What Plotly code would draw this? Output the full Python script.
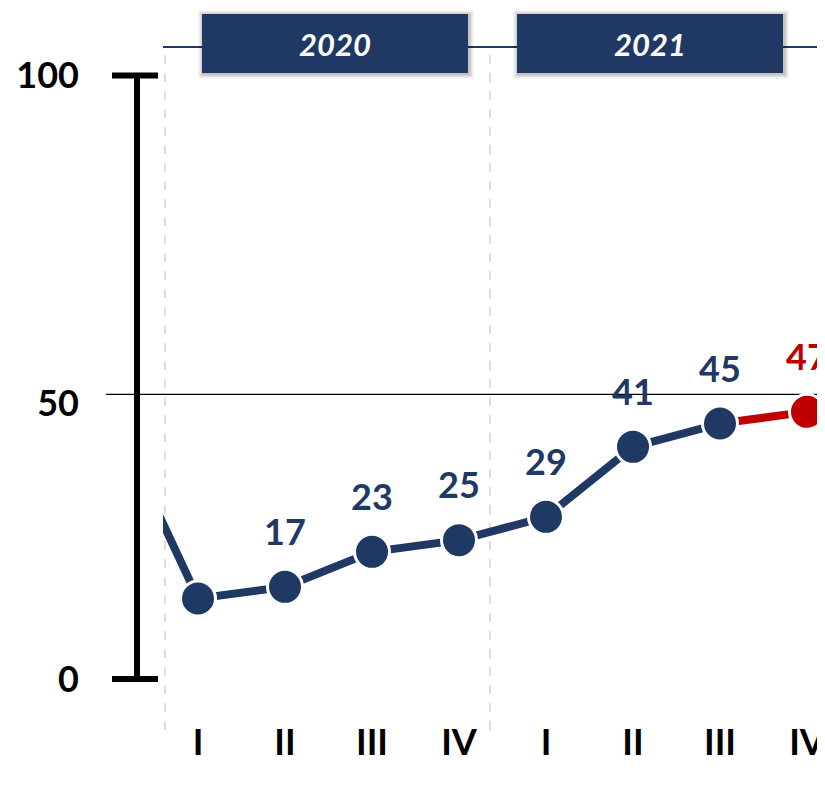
import plotly.graph_objects as go

# page is 825x792; the html body has an 8px margin, so the figure is offset by 8px
OFF = 8
W, H = 825 - OFF, 792 - 2 * OFF

# ---------------- data ----------------
quarters = ["IV", "I", "II", "III", "IV", "I", "II", "III", "IV"]   # first one (2019 Q4) is outside the view
values = [47, 15, 17, 23, 25, 29, 41, 45, 47]
show_label = [False, False, True, True, True, True, True, True, True]
years = ["2020", "2021"]
y_tick_text = ["0", "50", "100"]

NAVY = "#203864"
RED = "#C00000"
FONT = "Lato"


def px(p):          # page pixel -> paper x
    return (p - OFF) / W


def py(p):          # page pixel -> paper y
    return 1 - (p - OFF) / H


x_idx = list(range(len(values)))

# plot-area geometry (page pixels)
PLOT_L, PLOT_T, PLOT_B = 163, 50, 718
X0_PX, X_STEP = 111, 87           # pixel of index 0, pixel step per quarter


def x_at(p):
    return (p - X0_PX) / X_STEP


def y1_at(p):          # drawn scale axis: 0 at 679px, 100 at 75.5px
    return (679 - p) / 6.035


def y2_at(p):          # data axis: 0 at 686px, 5.833 px per unit
    return (686 - p) / 5.833


dom = [py(PLOT_B), py(PLOT_T)]

fig = go.Figure()

# red last segment (under the markers)
fig.add_trace(go.Scatter(
    x=x_idx[-2:], y=values[-2:], mode="lines",
    line=dict(color=RED, width=8), xaxis="x", yaxis="y2",
    hoverinfo="skip", showlegend=False))
# navy line + markers
fig.add_trace(go.Scatter(
    x=x_idx[:-1], y=values[:-1], mode="lines+markers",
    line=dict(color=NAVY, width=8),
    marker=dict(size=35, color=NAVY, line=dict(color="white", width=3)),
    xaxis="x", yaxis="y2", showlegend=False))
# red last marker
fig.add_trace(go.Scatter(
    x=x_idx[-1:], y=values[-1:], mode="markers",
    marker=dict(size=35, color=RED, line=dict(color="white", width=3)),
    xaxis="x", yaxis="y2", showlegend=False, cliponaxis=False))

annotations = []
for i, (v, s) in enumerate(zip(values, show_label)):
    if not s:
        continue
    annotations.append(dict(
        x=i, y=v, xref="x", yref="y2", yshift=56, showarrow=False,
        xanchor="center", yanchor="middle",
        text=f"<b>{v}</b>",
        font=dict(family=FONT, size=36, color=RED if i == len(values) - 1 else NAVY)))

shapes = []
# scale axis line + end caps
shapes.append(dict(type="line", xref="paper", yref="y", x0=px(137), x1=px(137), y0=0, y1=100,
                   line=dict(color="black", width=6)))
for yv in (0, 100):
    shapes.append(dict(type="line", xref="paper", yref="y", x0=px(112), x1=px(158), y0=yv, y1=yv,
                       line=dict(color="black", width=6)))
# 50 reference line
shapes.append(dict(type="line", xref="paper", yref="y2", x0=px(106), x1=1, y0=50, y1=50,
                   line=dict(color="black", width=1.3), layer="below"))
# dotted year separators
for xp in (165, 490):
    shapes.append(dict(type="line", xref="paper", yref="paper", x0=px(xp), x1=px(xp),
                       y0=py(730), y1=py(50), line=dict(color="#BDBDBD", width=1, dash="dash"),
                       layer="below"))
# header line
shapes.append(dict(type="line", xref="paper", yref="paper", x0=px(163), x1=1, y0=py(47), y1=py(47),
                   line=dict(color=NAVY, width=2)))
# year boxes with soft shadow
boxes = [(202, 468), (517, 783)]
for (bx0, bx1), yr in zip(boxes, years):
    for k, op in ((5, 0.03), (4, 0.04), (3, 0.05), (2, 0.06), (1, 0.07)):
        shapes.append(dict(type="rect", xref="paper", yref="paper",
                           x0=px(bx0 - k + 1), x1=px(bx1 + k + 1), y0=py(73 + k + 1), y1=py(14 - k + 1),
                           line=dict(width=0), fillcolor=f"rgba(0,0,0,{op})"))
    shapes.append(dict(type="rect", xref="paper", yref="paper",
                       x0=px(bx0), x1=px(bx1), y0=py(73), y1=py(14),
                       line=dict(width=0), fillcolor=NAVY))
    annotations.append(dict(
        x=px((bx0 + bx1) / 2), y=py(44), xref="paper", yref="paper", showarrow=False,
        xanchor="center", yanchor="middle",
        text=f"<b><i>{yr}</i></b>", font=dict(family=FONT, size=31, color="white")))

fig.update_layout(
    width=W, height=H,
    margin=dict(l=0, r=0, t=0, b=0),
    paper_bgcolor="white", plot_bgcolor="rgba(0,0,0,0)",
    showlegend=False,
    xaxis=dict(domain=[px(PLOT_L), 1], range=[x_at(PLOT_L), x_at(825)], anchor="y2",
               tickmode="array", tickvals=x_idx, ticktext=quarters,
               tickfont=dict(family=FONT, size=36, color="black", weight="bold"),
               ticklabeloverflow="allow",
               showgrid=False, zeroline=False, showline=False, ticks="", fixedrange=True),
    yaxis=dict(domain=dom, range=[y1_at(PLOT_B), y1_at(PLOT_T)], anchor="free", position=px(137),
               tickmode="array", tickvals=[0, y1_at(403), 100], ticktext=y_tick_text,
               tickfont=dict(family=FONT, size=36, color="black", weight="bold"),
               ticklabelstandoff=58,
               showgrid=False, zeroline=False, showline=False, ticks=""),
    yaxis2=dict(domain=dom, range=[y2_at(PLOT_B), y2_at(PLOT_T)], overlaying="y", anchor="x",
                visible=False, showgrid=False, zeroline=False),
    shapes=shapes,
    annotations=annotations,
)

fig.write_html("out.html")
